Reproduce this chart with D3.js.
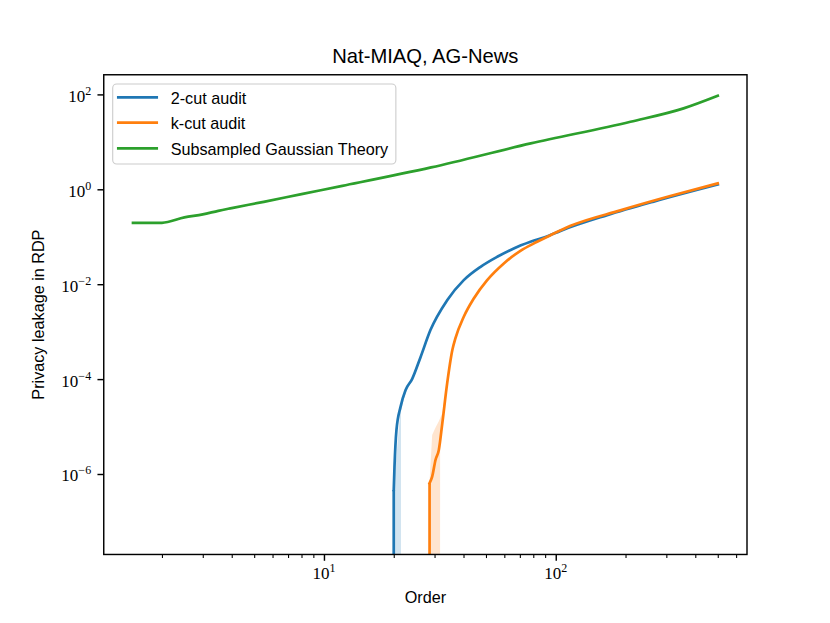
<!DOCTYPE html>
<html>
<head>
<meta charset="utf-8">
<script src="https://cdn.jsdelivr.net/npm/d3@7"></script>
<style>
  html, body { margin: 0; padding: 0; background: #fff; }
  svg { display: block; }
</style>
</head>
<body>
<script>
// ---------------- data ----------------
const ordersTheory = [1.5, 2, 2.5, 3, 3.5, 4, 5.5, 8, 12, 29, 78, 210, 356, 500];
const leakTheory   = [0.197, 0.197, 0.256, 0.296, 0.352, 0.402, 0.545, 0.792, 1.18, 2.89, 9.27, 26.5, 50.7, 93.4];

const orders2cut = [19, 20, 20.15, 20.55, 21.4, 22.5, 24.0, 26.1, 28.8, 34.0, 40.1, 47.4, 55.9, 65.9, 77.8, 93.3, 104.8, 166.6, 264.5, 500];
const leak2cut   = [0, 4.6e-7, 1.4e-6, 8.5e-6, 2.6e-5, 5.9e-5, 1.0e-4, 2.9e-4, 1.08e-3, 4.6e-3, 0.0122, 0.0233, 0.0378, 0.0568, 0.0783, 0.105, 0.133, 0.285, 0.55, 1.26];

const ordersKcut = [27.5, 28.55, 29.3, 30.3, 31.3, 32.4, 34.0, 35.8, 36.9, 40.1, 44.3, 50.6, 59.7, 70.4, 83.1, 94.9, 115.9, 190, 312, 500];
const leakKcut   = [0, 6.4e-7, 8.8e-7, 2.0e-6, 3.2e-6, 1.17e-5, 8.1e-5, 4.1e-4, 7.2e-4, 2.06e-3, 5.0e-3, 0.0122, 0.0274, 0.0506, 0.0783, 0.108, 0.170, 0.36, 0.72, 1.33];

// shaded spread bands (0 = below the visible range)
const band2Orders = [20, 21.45, 21.5, 22.5, 24.0, 26.1, 28.8];
const band2Lo     = [0, 0, 2.2e-5, 5.2e-5, 9.2e-5, 2.7e-4, 1.05e-3];
const band2Hi     = [5.0e-7, 2.8e-5, 2.9e-5, 6.2e-5, 1.05e-4, 3.0e-4, 1.1e-3];

const bandKOrders = [28.55, 29.3, 30.3, 31.3, 31.7, 32.4, 34.0, 35.8];
const bandKLo     = [0, 0, 0, 0, 4.5e-6, 1.0e-5, 7.6e-5, 3.9e-4];
const bandKHi     = [7.0e-7, 6.6e-6, 9.5e-6, 1.3e-5, 1.5e-5, 1.9e-5, 8.6e-5, 4.3e-4];

const seriesNames = ["2-cut audit", "k-cut audit", "Subsampled Gaussian Theory"];
const seriesColors = ["#1f77b4", "#ff7f0e", "#2ca02c"];

const xMajorTicks = [10, 100];
const xMajorExp   = ["1", "2"];
const xMinorTicks = [2, 3, 4, 5, 6, 7, 8, 9, 20, 30, 40, 50, 60, 70, 80, 90, 200, 300, 400, 500, 600];
const yMajorTicks = [1e-6, 1e-4, 1e-2, 1, 100];
const yMajorExp   = ["\u22126", "\u22124", "\u22122", "0", "2"];

const titleText = "Nat-MIAQ, AG-News";
const xLabelText = "Order";
const yLabelText = "Privacy leakage in RDP";

// ---------------- layout ----------------
const W = 830, H = 623;
const L = 103.75, R = 747, T = 74.76, B = 554.47;
const sansFont = "'Liberation Sans', Arial, sans-serif";
const serifFont = "'Liberation Serif', 'Times New Roman', serif";

const svg = d3.select("body").append("svg").attr("width", W).attr("height", H);
svg.append("rect").attr("width", W).attr("height", H).attr("fill", "#fff");

// x domain: data range 1.5..500 with 5% log margin
const lx0 = Math.log10(1.5), lx1 = Math.log10(500), mx = 0.05 * (lx1 - lx0);
const x = d3.scaleLog().domain([Math.pow(10, lx0 - mx), Math.pow(10, lx1 + mx)]).range([L, R]);
const y = d3.scaleLog().domain([Math.pow(10, -7.696), Math.pow(10, 2.414)]).range([B, T]);
const yv = v => (v > 0 ? y(v) : B + 100000);

svg.append("defs").append("clipPath").attr("id", "plotclip")
  .append("rect").attr("x", L).attr("y", T).attr("width", R - L).attr("height", B - T);

const plot = svg.append("g").attr("clip-path", "url(#plotclip)");

const zipPts = (os, vs) => os.map((o, i) => ({ o: o, v: vs[i] }));
const zipBand = (os, lo, hi) => os.map((o, i) => ({ o: o, lo: lo[i], hi: hi[i] }));

const area = d3.area().x(d => x(d.o)).y0(d => yv(d.lo)).y1(d => yv(d.hi));
const smooth = d3.line().x(d => x(d.o)).y(d => yv(d.v)).curve(d3.curveMonotoneX);
const straight = d3.line().x(d => x(d.o)).y(d => yv(d.v));

// bands (below lines)
plot.append("path").datum(zipBand(band2Orders, band2Lo, band2Hi))
  .attr("d", area).attr("fill", seriesColors[0]).attr("fill-opacity", 0.2);
plot.append("path").datum(zipBand(bandKOrders, bandKLo, bandKHi))
  .attr("d", area).attr("fill", seriesColors[1]).attr("fill-opacity", 0.2);

// audit lines: vertical drop from the "zero" point, then smooth curve through the read points
function drawAudit(os, vs, color) {
  const pts = zipPts(os, vs);
  const firstPos = pts.findIndex(p => p.v > 0);
  const drop = [{ o: pts[firstPos].o, v: 0 }, pts[firstPos]];
  const g = plot.append("g");
  g.append("path").datum(drop).attr("d", straight)
    .attr("fill", "none").attr("stroke", color).attr("stroke-width", 2.7);
  g.append("path").datum(pts.slice(firstPos)).attr("d", smooth)
    .attr("fill", "none").attr("stroke", color).attr("stroke-width", 2.7)
    .attr("stroke-linejoin", "round").attr("stroke-linecap", "square");
}
drawAudit(orders2cut, leak2cut, seriesColors[0]);
drawAudit(ordersKcut, leakKcut, seriesColors[1]);

// theory line
plot.append("path").datum(zipPts(ordersTheory, leakTheory)).attr("d", smooth)
  .attr("fill", "none").attr("stroke", seriesColors[2]).attr("stroke-width", 2.7)
  .attr("stroke-linejoin", "round").attr("stroke-linecap", "square");

// ---------------- axes ----------------
const xMajorAxis = d3.axisBottom(x).tickValues(xMajorTicks).tickSize(6.3).tickFormat("");
const xMinorAxis = d3.axisBottom(x).tickValues(xMinorTicks).tickSize(3.6).tickFormat("");
const gxMaj = svg.append("g").attr("transform", `translate(0,${B})`).call(xMajorAxis);
const gxMin = svg.append("g").attr("transform", `translate(0,${B})`).call(xMinorAxis);
const yMajorAxis = d3.axisLeft(y).tickValues(yMajorTicks).tickSize(6.3).tickFormat("");
const gyMaj = svg.append("g").attr("transform", `translate(${L},0)`).call(yMajorAxis);
[gxMaj, gxMin, gyMaj].forEach(g => g.select(".domain").remove());
gxMaj.selectAll("line").attr("stroke", "#000").attr("stroke-width", 1.44);
gyMaj.selectAll("line").attr("stroke", "#000").attr("stroke-width", 1.44);
gxMin.selectAll("line").attr("stroke", "#000").attr("stroke-width", 1.08);

// x tick labels 10^k
xMajorTicks.forEach((t, i) => {
  const txt = svg.append("text").attr("x", x(t)).attr("y", 579.3)
    .attr("text-anchor", "middle").attr("font-family", serifFont).attr("font-size", 17).attr("fill", "#000");
  txt.append("tspan").text("10");
  txt.append("tspan").attr("dy", -7).attr("font-size", 12).text(xMajorExp[i]);
});
// y tick labels 10^k
yMajorTicks.forEach((t, i) => {
  const txt = svg.append("text").attr("x", L - 12.6).attr("y", y(t) + 7.5)
    .attr("text-anchor", "end").attr("font-family", serifFont).attr("font-size", 17).attr("fill", "#000");
  txt.append("tspan").text("10");
  txt.append("tspan").attr("dy", -7).attr("font-size", 12).text(yMajorExp[i]);
});

// spines
svg.append("rect").attr("x", L).attr("y", T).attr("width", R - L).attr("height", B - T)
  .attr("fill", "none").attr("stroke", "#000").attr("stroke-width", 1.44);

// title and labels
svg.append("text").attr("x", (L + R) / 2).attr("y", 63.3).attr("text-anchor", "middle")
  .attr("font-family", sansFont).attr("font-size", 20.2).attr("fill", "#000").text(titleText);
svg.append("text").attr("x", (L + R) / 2).attr("y", 602.5).attr("text-anchor", "middle")
  .attr("font-family", sansFont).attr("font-size", 16.2).attr("fill", "#000").text(xLabelText);
svg.append("text").attr("transform", `translate(44,${(T + B) / 2}) rotate(-90)`).attr("text-anchor", "middle")
  .attr("font-family", sansFont).attr("font-size", 16.2).attr("fill", "#000").text(yLabelText);

// ---------------- legend ----------------
const legX = 112.7, legY = 84, rowY = [97.3, 122.7, 148.3];
const legG = svg.append("g");
const frame = legG.append("rect").attr("x", legX).attr("y", legY).attr("rx", 4).attr("ry", 4)
  .attr("height", 164 - legY).attr("fill", "#fff").attr("fill-opacity", 0.8)
  .attr("stroke", "#cccccc").attr("stroke-width", 1.1);
let maxW = 0;
seriesNames.forEach((name, i) => {
  legG.append("line").attr("x1", 118.3).attr("x2", 156.7).attr("y1", rowY[i]).attr("y2", rowY[i])
    .attr("stroke", seriesColors[i]).attr("stroke-width", 2.7).attr("stroke-linecap", "square");
  const t = legG.append("text").attr("x", 170.7).attr("y", rowY[i] + 6.3)
    .attr("font-family", sansFont).attr("font-size", 16.2).attr("fill", "#000").text(name);
  maxW = Math.max(maxW, t.node().getComputedTextLength());
});
frame.attr("width", 170.7 + maxW + 7.7 - legX);
</script>
</body>
</html>
